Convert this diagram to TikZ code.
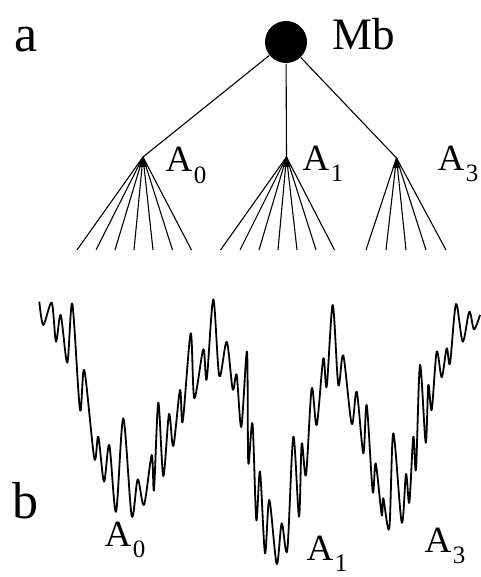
\documentclass[tikz,border=0pt]{standalone}
\usepackage{fontspec}
\setmainfont{Liberation Serif}
\newcommand{\sublab}[1]{A\kern1.5pt\raisebox{-11pt}{\fontsize{25}{25}\selectfont #1}}

\begin{document}
\begin{tikzpicture}[x=1pt, y=-1pt, line width=1.1pt,
    lbl/.style={font=\fontsize{37}{40}\selectfont, inner sep=0pt, anchor=base west},
    panel/.style={font=\fontsize{52}{56}\selectfont, inner sep=0pt, anchor=base west},
    hub/.style={fill=black, line width=0.4pt}]
  \useasboundingbox (0,0) rectangle (480,577);
  % (a) tree
  \node[panel] (pa) at (14,52) {a};
  \node[circle, fill=black, minimum size=42pt, inner sep=0pt] (mb) at (286,42) {};
  \node[font=\fontsize{45}{48}\selectfont, inner sep=0pt, anchor=base west] (mblab) at (332,50) {Mb};
  \coordinate (a0) at (143,157);
  \coordinate (a1) at (286.5,157);
  \coordinate (a3) at (396.5,158);
  \draw (mb) -- (a0);
  \draw (mb) -- (a1);
  \draw (mb) -- (a3);
  % fans
  \foreach \x [count=\i] in {77,96,115,134,153,172.5,191.5}{
    \coordinate (l0-\i) at (\x,250);
    \draw (a0) -- (l0-\i);
  }
  \foreach \x [count=\i] in {220.5,240,259,278,297,316,334.5}{
    \coordinate (l1-\i) at (\x,250);
    \draw (a1) -- (l1-\i);
  }
  \foreach \x [count=\i] in {366,386,406,426,446}{
    \coordinate (l3-\i) at (\x,250);
    \draw (a3) -- (l3-\i);
  }
  \foreach \h in {a0,a1,a3}
    \fill[hub] (\h) -- ++(-4,10) -- ++(8,0) -- cycle;
  \node[lbl] (ta0) at (165,172) {\sublab{0}};
  \node[lbl] (ta1) at (302,171) {\sublab{1}};
  \node[lbl] (ta3) at (437,171) {\sublab{3}};
  % (b) landscape
  \node[panel] (pb) at (12,518) {b};
  \draw[line width=1.8pt, line join=round] plot[smooth, tension=0.5] coordinates {
    (39.3,301.7) (43.3,325) (51.7,302.7) (56,341.7) (60.7,315) (67.3,362.7)
    (72.3,304) (80,410) (84.3,370) (94.3,458.3) (98.3,436.7) (104,481.7)
    (109.3,445) (116,511.7) (123.3,418.3) (131.7,516) (137.7,479.3) (144,505)
    (151.7,455) (154,490) (158.3,402.7) (163.3,476) (169,414) (173.3,446)
    (180,390) (182.7,421.7) (190.7,333.3) (194.3,398.3) (203.3,349.3) (206.7,379.3)
    (213.3,299.3) (219.3,376) (226.7,341.7) (232.7,389.3) (236.7,375) (241.3,427)
    (247,351.5) (248.3,462.7) (252.5,423.3) (256.3,520) (260,471.7) (265,553.3)
    (269.3,500) (276.7,564) (281.7,523.3) (287.3,550) (293.3,436.7) (299,516.7)
    (301.7,443.3) (306,475) (311.7,388.3) (316.7,425) (323.3,358.3) (326.7,386.7)
    (332.7,305) (338.3,385) (343.3,355.5) (351.7,424) (356.7,391.7) (363.3,453.3)
    (366.7,405) (372.7,491.7) (375.7,463.3) (381.7,515) (383.3,498.3) (389.3,528.3)
    (393.3,433.3) (401.7,522.7) (406,474) (409.3,502.7) (413.3,436.7) (416,469.3)
    (420,365) (425.7,442.7) (428.3,385) (431.7,410) (436.7,351.7) (441.7,377.3)
    (446.7,348.3) (450,363.3) (456,304) (462.7,341.7) (469.3,311.7) (474,329.3)
    (480,315)};
  \node[lbl] (ba0) at (104,546) {\sublab{0}};
  \node[lbl] (ba1) at (306,560) {\sublab{1}};
  \node[lbl] (ba3) at (424,552) {\sublab{3}};
\end{tikzpicture}
\end{document}
